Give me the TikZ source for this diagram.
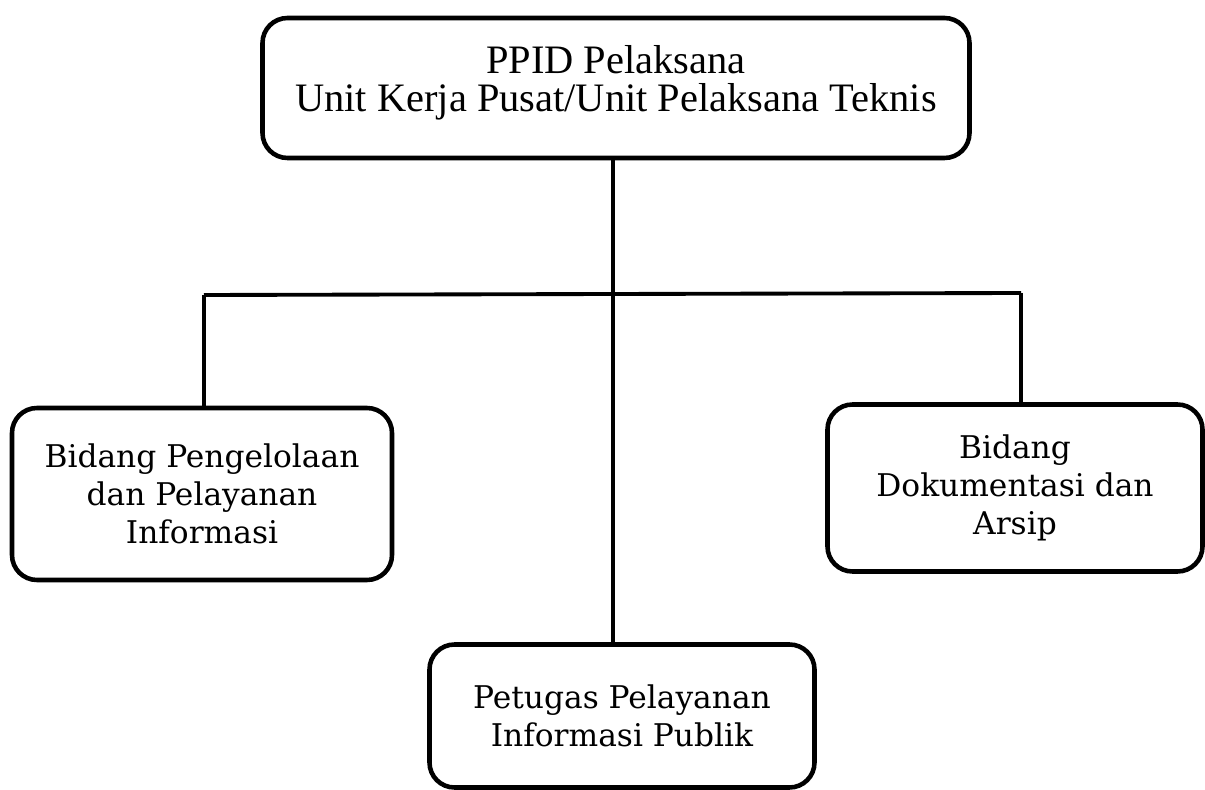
\documentclass[tikz,border=0pt]{standalone}
\usepackage{fontspec}
\setmainfont{DejaVu Serif}
\newfontfamily\topfont{Liberation Serif}
\usepackage{tikz}

\begin{document}
\begin{tikzpicture}[x=0.02cm,y=-0.02cm,
  kotak/.style={draw,line width=2.6pt,rounded corners=0.5cm,align=center,inner sep=0pt,
    font=\fontsize{17.8}{21.5}\selectfont},
  garis/.style={line width=2.2pt}]
  \useasboundingbox (0,0) rectangle (1205,790);
  \node[kotak,minimum width=707*0.02cm,minimum height=140*0.02cm] (ppid) at (616,88) {};
  \node[align=center,font=\topfont\fontsize{23}{21.5}\selectfont] (ppidtxt) at (616,83)
     {PPID Pelaksana\\Unit Kerja Pusat/Unit Pelaksana Teknis};
  \node[kotak,minimum width=380*0.02cm,minimum height=172*0.02cm] (bpp) at (202,494)
     {Bidang Pengelolaan\\dan Pelayanan\\Informasi};
  \node[kotak,minimum width=375*0.02cm,minimum height=167*0.02cm] (bda) at (1015,488)
     {Bidang\\Dokumentasi dan\\Arsip};
  \node[kotak,minimum width=385*0.02cm,minimum height=143*0.02cm] (ppip) at (622,716)
     {Petugas Pelayanan\\Informasi Publik};
  \coordinate (ki) at (204,295);
  \coordinate (ka) at (1021,293);
  \draw[garis] (613,158) -- (613,645);
  \draw[garis] (ki) -- (ka);
  \draw[garis] (ki) -- (ki |- bpp.north);
  \draw[garis] (ka) -- (ka |- bda.north);
\end{tikzpicture}
\end{document}
